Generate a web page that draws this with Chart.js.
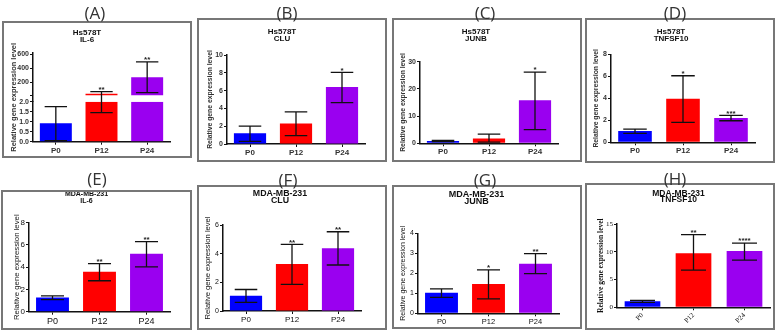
<!DOCTYPE html>
<html lang="en">
<head>
<meta charset="UTF-8">
<title>Relative gene expression</title>
<script src="https://cdn.jsdelivr.net/npm/chart.js@4.4.1/dist/chart.umd.min.js"></script>
<style>
  body { margin: 0; background: #fff; }
  #fig { position: relative; width: 778px; height: 335px; overflow: hidden; background: #fff; }
  .box { position: absolute; border: 2px solid #777; box-sizing: border-box; }
  .box canvas { position: absolute; left: 0; top: 0; }
  .lbl { position: absolute; font: 17px "Open Sans", sans-serif; color: #333; transform: translate(-50%, -50%); white-space: nowrap; }
</style>
</head>
<body>
<div id="fig"></div>
<script>
const categories = ['P0', 'P12', 'P24'];
const barColors = ['#0000ff', '#ff0000', '#9a00f0'];
const panelLabels = ['(A)', '(B)', '(C)', '(D)', '(E)', '(F)', '(G)', '(H)'];
const cellLines = ['Hs578T', 'Hs578T', 'Hs578T', 'Hs578T', 'MDA-MB-231', 'MDA-MB-231', 'MDA-MB-231', 'MDA-MB-231'];
const genes = ['IL-6', 'CLU', 'JUNB', 'TNFSF10', 'IL-6', 'CLU', 'JUNB', 'TNFSF10'];
const yLabel = 'Relative gene expression level';

// bar height, bottom and top of error bar, significance marks
const meanA = [0.92, 30, 270], loA = [0.05, 1.45, 47], hiA = [1.75, 60, 490], starsA = ['', '**', '**'];
const meanB = [1.2, 2.3, 6.4], loB = [0.3, 0.95, 4.65], hiB = [2.0, 3.6, 8.05], starsB = ['', '', '*'];
const meanC = [0.85, 1.8, 15.8], loC = [0.6, 0.4, 5.0], hiC = [1.1, 3.4, 26.2], starsC = ['', '', '*'];
const meanD = [1.03, 3.97, 2.2], loD = [0.82, 1.82, 1.96], hiD = [1.2, 6.05, 2.45], starsD = ['', '*', '***'];
const meanE = [1.27, 3.6, 5.2], loE = [1.08, 2.78, 4.03], hiE = [1.42, 4.33, 6.3], starsE = ['', '**', '**'];
const meanF = [1.07, 3.28, 4.37], loF = [0.6, 1.86, 3.21], hiF = [1.5, 4.65, 5.53], starsF = ['', '**', '**'];
const meanG = [1.03, 1.47, 2.48], loG = [0.8, 0.72, 1.98], hiG = [1.22, 2.17, 2.98], starsG = ['', '*', '**'];
const meanH = [1.1, 9.75, 10.15], loH = [0.9, 6.7, 8.5], hiH = [1.25, 13.1, 11.55], starsH = ['', '**', '****'];

// panel A uses a broken y axis
const breakA = 2;
const lowTicksA = [0, 0.5, 1, 1.5, 2];
const highTicksA = [0, 200, 400, 600];

const yMax = [null, 10, 30, 8, 8, 6, 4, 15];
const yStep = [null, 2, 10, 2, 2, 2, 1, 5];

const means = [meanA, meanB, meanC, meanD, meanE, meanF, meanG, meanH];
const los = [loA, loB, loC, loD, loE, loF, loG, loH];
const his = [hiA, hiB, hiC, hiD, hiE, hiF, hiG, hiH];
const stars = [starsA, starsB, starsC, starsD, starsE, starsF, starsG, starsH];

// page geometry: box [x, y, w, h], plot area [l, t, r, b], title line centre, line height, y-title x, label pos
const geo = [
  {box: [2, 21, 190, 137], area: [33, 53, 170, 141.7], t1: 33, lh: 7, yt: 14, lab: [95, 12]},
  {box: [197, 18, 190, 144], area: [227, 55, 365, 144], t1: 31.7, lh: 7.3, yt: 210, lab: [287, 12]},
  {box: [392, 18, 190, 144], area: [420, 61.7, 558, 143.3], t1: 31.7, lh: 7.3, yt: 403, lab: [485, 12]},
  {box: [585, 18, 190, 145], area: [611, 54.3, 755, 142.3], t1: 31.7, lh: 7.5, yt: 596, lab: [675, 12]},
  {box: [1, 190, 191, 140], area: [29, 222.7, 170, 311.7], t1: 194, lh: 6.7, yt: 16.7, lab: [97, 178]},
  {box: [197, 185, 190, 145], area: [223, 225, 361, 311], t1: 193.7, lh: 7, yt: 208, lab: [288, 179]},
  {box: [392, 185, 190, 144], area: [418, 233.3, 559, 313.3], t1: 194.3, lh: 7.3, yt: 403, lab: [485, 179]},
  {box: [585, 183, 190, 147], area: [617, 224, 770, 307.3], t1: 193.3, lh: 6.7, yt: 601, lab: [675, 178]}
];

const sans = '"Liberation Sans", Arial, sans-serif';
const serif = '"Liberation Serif", "Times New Roman", serif';
const hsStyle = {fam: sans, tFam: sans, tSize: 8, tW: 'bold', tick: 7, tickW: 'bold', xs: 8, xW: 'bold', ys: 6.8, yW: 'bold', col: '#333', rot: 0};
const styles = [
  Object.assign({}, hsStyle, {ys: 7.5}),
  hsStyle, hsStyle, hsStyle,
  {fam: sans, tFam: sans, tSize: 7, tW: 'bold', tick: 8, tickW: 'normal', xs: 9, xW: 'normal', ys: 7.8, yW: 'normal', col: '#111', rot: 0},
  {fam: sans, tFam: sans, tSize: 8.8, tW: 'bold', tick: 7, tickW: 'normal', xs: 8, xW: 'normal', ys: 7.6, yW: 'normal', col: '#111', rot: 0},
  {fam: sans, tFam: sans, tSize: 9, tW: 'bold', tick: 7, tickW: 'normal', xs: 7.5, xW: 'normal', ys: 7, yW: 'normal', col: '#111', rot: 0},
  {fam: serif, tFam: sans, tSize: 8.5, tW: 'bold', tick: 7, tickW: 'normal', xs: 7, xW: 'normal', ys: 7.5, yW: 'bold', col: '#111', rot: 45}
];

// error bars + asterisks, drawn through the chart's scales
function errorBars(lo, hi, marks, axisFor, capW) {
  return {
    id: 'errorBars',
    afterDatasetsDraw(chart) {
      const ctx = chart.ctx, x = chart.scales.x;
      ctx.save();
      ctx.strokeStyle = '#111';
      ctx.lineWidth = 1.3;
      ctx.fillStyle = '#222';
      ctx.font = 'bold 8px ' + sans;
      ctx.textAlign = 'center';
      ctx.textBaseline = 'middle';
      lo.forEach((v, k) => {
        const px = x.getPixelForValue(k);
        const y1 = chart.scales[axisFor(v)].getPixelForValue(v);
        const y2 = chart.scales[axisFor(hi[k])].getPixelForValue(hi[k]);
        ctx.beginPath();
        ctx.moveTo(px, y1); ctx.lineTo(px, y2);
        ctx.moveTo(px - capW / 2, y1); ctx.lineTo(px + capW / 2, y1);
        ctx.moveTo(px - capW / 2, y2); ctx.lineTo(px + capW / 2, y2);
        ctx.stroke();
        if (marks[k]) ctx.fillText(marks[k], px, y2 - 2);
      });
      ctx.restore();
    }
  };
}

// y title for the broken-axis panel (spans both stacked axes)
function sideTitle(x, text, font, color) {
  return {
    id: 'sideTitle',
    afterDraw(chart) {
      const {ctx, chartArea: a} = chart;
      ctx.save();
      ctx.translate(x, (a.top + a.bottom) / 2);
      ctx.rotate(-Math.PI / 2);
      ctx.font = font;
      ctx.fillStyle = color;
      ctx.textAlign = 'center';
      ctx.textBaseline = 'middle';
      ctx.fillText(text, 0, 0);
      ctx.restore();
    }
  };
}

const fig = document.getElementById('fig');

geo.forEach((g, i) => {
  const S = styles[i];
  const [bx, by, bw, bh] = g.box;
  const [l, t, r, b] = g.area;

  const div = document.createElement('div');
  div.className = 'box';
  div.style.left = bx + 'px'; div.style.top = by + 'px';
  div.style.width = bw + 'px'; div.style.height = bh + 'px';
  const cv = document.createElement('canvas');
  const cx = bx + 2, cy = by + 2, cw = bw - 4, ch = bh - 4;
  cv.width = cw; cv.height = ch;
  div.appendChild(cv);
  fig.appendChild(div);

  const lab = document.createElement('div');
  lab.className = 'lbl';
  lab.textContent = panelLabels[i];
  lab.style.left = g.lab[0] + 'px'; lab.style.top = g.lab[1] + 'px';
  fig.appendChild(lab);

  const catW = (r - l) / 3;
  const capW = catW * 0.7 * 0.7;
  const axisLine = {color: '#111', width: 1.5};
  const tickGrid = {drawOnChartArea: false, tickLength: 3, color: '#111', lineWidth: 1};
  const tickFont = {family: S.fam, size: S.tick, weight: S.tickW};

  const xScale = {
    offset: true,
    grid: Object.assign({offset: false}, tickGrid),
    border: axisLine,
    ticks: {font: {family: S.fam, size: S.xs, weight: S.xW}, color: S.col, padding: 1,
            maxRotation: S.rot, minRotation: S.rot, autoSkip: false},
    afterFit(s) { s.height = ch - (b - cy); }
  };
  const fitY = s => { s.width = l - cx; };

  let scales, datasets, axisFor, extra = [];
  const mean = means[i];

  if (i === 0) {
    // broken axis: two stacked y scales
    scales = {
      x: xScale,
      yHi: {
        type: 'linear', position: 'left', stack: 'a', stackWeight: 48.7, weight: 1,
        min: -84.5, max: 619,
        afterBuildTicks(s) { s.ticks = highTicksA.map(v => ({value: v})); },
        ticks: {font: tickFont, color: S.col, padding: 1, autoSkip: false,
                callback: v => v === 0 ? '' : v},
        grid: tickGrid, border: axisLine, afterFit: fitY
      },
      yLo: {
        type: 'linear', position: 'left', stack: 'a', stackWeight: 40, weight: 0,
        min: 0, max: breakA,
        afterBuildTicks(s) { s.ticks = lowTicksA.map(v => ({value: v})); },
        ticks: {font: tickFont, color: S.col, padding: 1, autoSkip: false,
                callback: v => v.toFixed(1)},
        grid: tickGrid, border: axisLine, afterFit: fitY
      }
    };
    datasets = [
      {data: mean.map(v => Math.min(v, breakA)), yAxisID: 'yLo', backgroundColor: barColors,
       grouped: false, barPercentage: 0.7, categoryPercentage: 1},
      {data: mean.map(v => v > breakA ? v : null), yAxisID: 'yHi', backgroundColor: barColors,
       grouped: false, barPercentage: 0.7, categoryPercentage: 1}
    ];
    axisFor = v => v > breakA ? 'yHi' : 'yLo';
    extra.push(sideTitle(g.yt - cx, yLabel, S.yW + ' ' + S.ys + 'px ' + S.fam, S.col));
  } else {
    scales = {
      x: xScale,
      y: {
        min: 0, max: yMax[i],
        ticks: {stepSize: yStep[i], font: tickFont, color: S.col, padding: 1, autoSkip: false},
        grid: tickGrid, border: axisLine,
        title: {display: true, text: yLabel, color: S.col,
                font: {family: S.fam, size: S.ys, weight: S.yW, lineHeight: 1},
                padding: {top: g.yt - cx - S.ys / 2, bottom: 0}},
        afterFit: fitY
      }
    };
    datasets = [{data: mean, backgroundColor: barColors, barPercentage: 0.7, categoryPercentage: 1}];
    axisFor = () => 'y';
  }

  new Chart(cv, {
    type: 'bar',
    data: {labels: categories, datasets: datasets},
    options: {
      responsive: false,
      animation: false,
      layout: {padding: {top: g.t1 - g.lh / 2 - cy, right: cx + cw - r, left: 0, bottom: 0}},
      plugins: {
        legend: {display: false},
        tooltip: {enabled: false},
        title: {
          display: true,
          text: [cellLines[i], genes[i]],
          color: '#111',
          font: {family: S.tFam, size: S.tSize, weight: S.tW, lineHeight: g.lh / S.tSize},
          padding: {top: 0, bottom: t - g.t1 - 1.5 * g.lh}
        }
      },
      scales: scales
    },
    plugins: [errorBars(los[i], his[i], stars[i], axisFor, capW)].concat(extra)
  });
});
</script>
</body>
</html>
